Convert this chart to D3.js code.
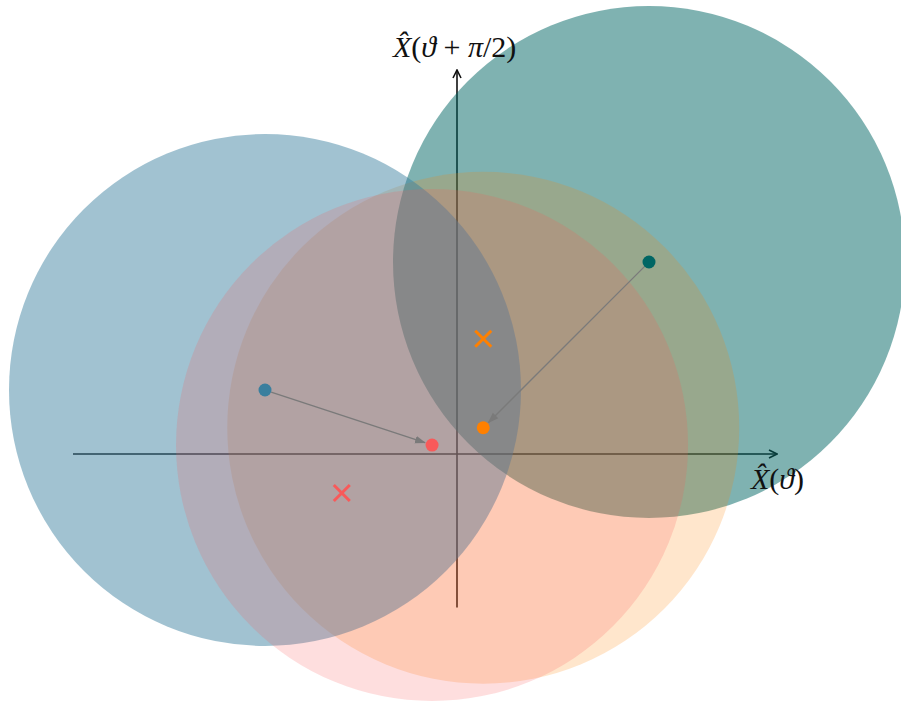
<!DOCTYPE html>
<html>
<head>
<meta charset="utf-8">
<script src="https://cdn.jsdelivr.net/npm/d3@7"></script>
<style>
  html, body { margin: 0; padding: 0; background: #fff; }
  svg { display: block; }
  .lbl { font-family: "Liberation Serif", "DejaVu Serif", serif; font-size: 30px; fill: #111; white-space: pre; }
</style>
</head>
<body>
<script>
// Phase-space states: coherent-state noise circles, their centres, and displacement arrows
const stateNames   = ["initial", "probe", "shifted", "displaced"];
const stateX       = [-3.0, 3.0, -0.39, 0.41];
const stateY       = [1.0, 3.0, 0.14, 0.41];
const noiseRadius  = [4.0, 4.0, 4.0, 4.0];
const stateColors  = ["#3a7f9e", "#006664", "#f85a5a", "#ff8000"];
const stateAlpha   = [0.48, 0.5, 0.2, 0.2];
// painting order of the translucent circles
const layerOrder   = [1, 3, 0, 2];

// crosses marking reference points
const crossX      = [0.41, -1.8];
const crossY      = [1.8, -0.61];
const crossColors = ["#ff8000", "#f85a5a"];

// arrows: from state index -> to state index
const arrowFrom = [0, 1];
const arrowTo   = [2, 3];

const W = 901, H = 704;
const x = d3.scaleLinear().domain([-6, 5]).range([73, 777]);
const y = d3.scaleLinear().domain([-2.4, 6]).range([607.6, 70]);
const px = d => x(d) - x(0); // length in pixels for radius

const svg = d3.select("body").append("svg").attr("width", W).attr("height", H);

const defs = svg.append("defs");
defs.append("marker").attr("id", "axhead")
  .attr("viewBox", "0 0 10 10").attr("refX", 9).attr("refY", 5)
  .attr("markerWidth", 10).attr("markerHeight", 10).attr("markerUnits", "userSpaceOnUse")
  .attr("orient", "auto")
  .append("path").attr("d", "M1,1 L9,5 L1,9").attr("fill", "none")
  .attr("stroke", "#111").attr("stroke-width", 1.6);
defs.append("marker").attr("id", "arrhead")
  .attr("viewBox", "0 0 10 10").attr("refX", 9).attr("refY", 5)
  .attr("markerWidth", 11).attr("markerHeight", 11).attr("markerUnits", "userSpaceOnUse")
  .attr("orient", "auto")
  .append("path").attr("d", "M0,1.5 L10,5 L0,8.5 Z").attr("fill", "#7a7a7a");

// axes (drawn beneath the translucent circles)
const axes = svg.append("g");
axes.append("line").attr("x1", x(-6)).attr("y1", y(0)).attr("x2", x(5)).attr("y2", y(0))
  .attr("stroke", "#111").attr("stroke-width", 1.6).attr("marker-end", "url(#axhead)");
axes.append("line").attr("x1", x(0)).attr("y1", y(-2.4)).attr("x2", x(0)).attr("y2", y(6))
  .attr("stroke", "#111").attr("stroke-width", 1.6).attr("marker-end", "url(#axhead)");

// noise circles
const idx = d3.range(stateNames.length);
svg.append("g").selectAll("circle").data(layerOrder).join("circle")
  .attr("cx", i => x(stateX[i])).attr("cy", i => y(stateY[i]))
  .attr("r", i => px(noiseRadius[i]))
  .attr("fill", i => stateColors[i]).attr("fill-opacity", i => stateAlpha[i]);

// displacement arrows
const dotR = 6.5;
svg.append("g").selectAll("line").data(d3.range(arrowFrom.length)).join("line")
  .each(function(k) {
    const a = arrowFrom[k], b = arrowTo[k];
    const x1 = x(stateX[a]), y1 = y(stateY[a]), x2 = x(stateX[b]), y2 = y(stateY[b]);
    const L = Math.hypot(x2 - x1, y2 - y1);
    const ux = (x2 - x1) / L, uy = (y2 - y1) / L;
    d3.select(this)
      .attr("x1", x1 + ux * dotR).attr("y1", y1 + uy * dotR)
      .attr("x2", x2 - ux * (dotR + 1)).attr("y2", y2 - uy * (dotR + 1));
  })
  .attr("stroke", "#7a7a7a").attr("stroke-width", 1.3).attr("marker-end", "url(#arrhead)");

// centre dots
svg.append("g").selectAll("circle").data(idx).join("circle")
  .attr("cx", i => x(stateX[i])).attr("cy", i => y(stateY[i]))
  .attr("r", dotR).attr("fill", i => stateColors[i]);

// crosses
const cs = 8;
svg.append("g").selectAll("path").data(d3.range(crossX.length)).join("path")
  .attr("d", k => {
    const cx = x(crossX[k]), cy = y(crossY[k]);
    return `M${cx - cs},${cy - cs}L${cx + cs},${cy + cs}M${cx - cs},${cy + cs}L${cx + cs},${cy - cs}`;
  })
  .attr("stroke", k => crossColors[k]).attr("stroke-width", 3).attr("fill", "none");

// axis labels
function quadLabel(g, parts) {
  const t = g.append("text").attr("class", "lbl").attr("xml:space", "preserve");
  parts.forEach(p => {
    t.append("tspan").text(p[0]).attr("font-style", p[1] ? "italic" : "normal");
  });
  return t;
}
quadLabel(svg, [["X\u0302", true], ["(", false], ["\u03D1", true], [" + ", false], ["\u03C0", true], ["/2)", false]])
  .attr("x", 393).attr("y", 57);
quadLabel(svg, [["X\u0302", true], ["(", false], ["\u03D1", true], [")", false]])
  .attr("x", 751).attr("y", 489);
</script>
</body>
</html>
